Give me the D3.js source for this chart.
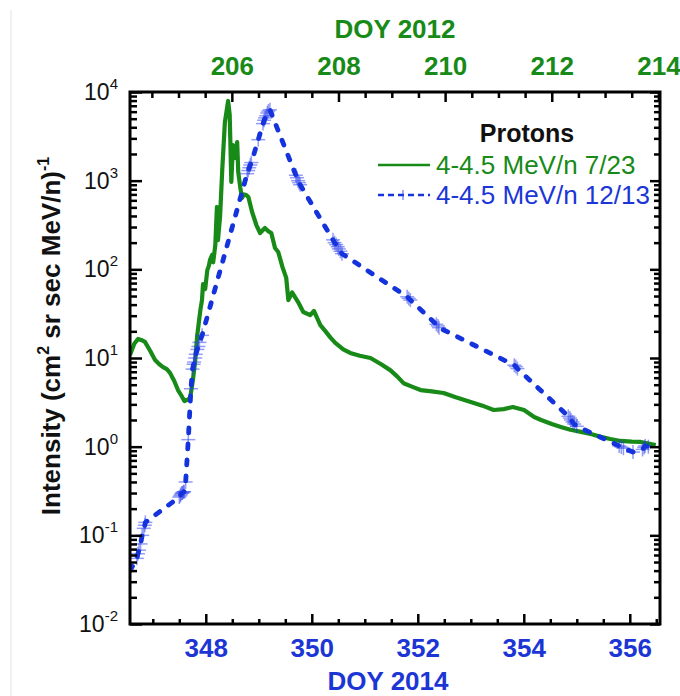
<!DOCTYPE html>
<html><head><meta charset="utf-8">
<script src="https://cdn.jsdelivr.net/npm/d3@7"></script>
<style>body{margin:0;background:#fff}svg{display:block}text{font-family:"Liberation Sans",Arial,sans-serif}</style>
</head><body><svg id="c" width="680" height="696"></svg>
<script>
// ---- data ----
const greenDoy2012 = [204.09,204.17,204.24,204.30,204.37,204.47,204.56,204.64,204.71,204.78,
  204.84,204.92,204.99,205.05,205.11,205.18,205.22,205.27,205.31,205.35,
  205.38,205.41,205.44,205.46,205.50,205.54,205.57,205.59,205.63,205.65,
  205.69,205.72,205.74,205.78,205.82,205.87,205.93,205.96,205.99,206.02,
  206.06,206.10,206.12,206.16,206.19,206.23,206.27,206.31,206.38,206.46,
  206.53,206.62,206.68,206.74,206.81,206.87,206.95,207.02,207.06,207.13,
  207.24,207.34,207.47,207.54,207.66,207.75,207.85,207.94,208.09,208.22,
  208.40,208.60,208.80,208.97,209.10,209.22,209.40,209.54,209.75,209.97,
  210.20,210.48,210.70,210.91,211.10,211.27,211.48,211.67,211.80,212.00,
  212.17,212.35,212.55,212.75,212.92,213.10,213.29,213.50,213.67,213.95];
const greenIntensity = [10.8,14.5,16.4,16,15.2,12,9.5,8.5,7.9,7.5,
  6.8,5.5,4.35,3.8,3.27,3.4,3.6,5.65,9,17.7,
  25,34.8,45,68,60,98,110,127,145,120,
  188,505,214,400,1320,4590,7920,5500,966,2520,
  1800,2730,1250,826,638,700,689,654,443,316,
  257,292,270,257,174,157,106,80,45,55,
  43,33,30.5,33.9,23.5,20.2,17,14.8,12.5,11.4,
  10.6,10,8.5,7.3,6.2,5.2,4.7,4.35,4.2,4.03,
  3.6,3.19,2.9,2.59,2.65,2.8,2.59,2.16,2.0,1.8,
  1.67,1.55,1.47,1.38,1.29,1.22,1.16,1.14,1.13,1.04];
const blueDoy2014 = [346.57,346.70,346.72,346.74,346.77,346.80,346.83,346.85,346.86,347.50,
  347.52,347.53,347.55,347.56,347.58,347.59,347.62,347.67,347.72,347.75,
  347.77,347.78,347.80,347.81,347.84,347.86,347.88,347.93,348.78,348.80,
  348.82,348.84,348.86,348.99,349.08,349.10,349.12,349.14,349.16,349.18,
  349.21,349.70,349.72,349.74,349.76,349.78,350.40,350.43,350.46,350.49,
  350.51,350.54,350.57,351.80,351.83,351.86,352.35,352.38,352.40,353.82,
  353.85,353.88,354.84,354.87,354.89,354.92,354.95,355.00,355.80,355.84,
  355.88,356.06,356.24,356.27,356.29,356.35];
const blueIntensity = [0.040,0.055,0.062,0.068,0.08,0.10,0.12,0.13,0.14,0.27,
  0.28,0.29,0.30,0.30,0.31,0.31,0.40,1.2,4.5,7.5,
  8.5,9,10,11,12.5,13.5,15,18,1200,1300,
  1400,1500,1600,2900,4400,4800,5100,5400,5800,6100,
  6300,1150,1080,1000,950,900,215,200,190,180,
  170,160,150,49,47,45,24,23,22,8.3,
  8.0,7.6,2.2,2.1,2.0,1.9,1.8,1.7,1.02,0.99,
  0.96,0.87,0.93,0.98,1.02,1.0];
const bottomTicks = [348,350,352,354,356];
const topTicks = [206,208,210,212,214];
const yTickValues = [1e-2,1e-1,1e0,1e1,1e2,1e3,1e4];
const yExponents = ["-2","-1","0","1","2","3","4"];
const legendTitle = "Protons";
const legendLabels = ["4-4.5 MeV/n 7/23","4-4.5 MeV/n 12/13"];
const bottomTitle = "DOY 2014", topTitle = "DOY 2012";

// ---- layout ----
const L=130,R=660,T=92,B=624;
const GREEN="#178a17", BLUE="#1533dd", BLUE_TXT="#1c36d6";
const svg = d3.select("#c");
const x = d3.scaleLinear().domain([346.57,356.57]).range([L,R]);
const xTop = d3.scaleLinear().domain([204.09,214.03]).range([L,R]);
const y = d3.scaleLog().domain([1e-2,1e4]).range([B,T]);

svg.append("line").attr("x1",11).attr("x2",11).attr("y1",10).attr("y2",696)
  .attr("stroke","#e2e2e2").attr("stroke-width",1);

svg.append("clipPath").attr("id","clip").append("rect")
  .attr("x",L).attr("y",T).attr("width",R-L).attr("height",B-T);

const plot = svg.append("g").attr("clip-path","url(#clip)");

// green line
const gLine = d3.line().x((d,i)=>xTop(greenDoy2012[i])).y((d,i)=>y(greenIntensity[i]));
plot.append("path").attr("d",gLine(greenDoy2012)).attr("fill","none")
  .attr("stroke",GREEN).attr("stroke-width",4.2).attr("stroke-linejoin","round");

// blue markers
const mk = 7;
const markers = plot.append("g").attr("stroke","rgba(40,60,235,0.5)").attr("stroke-width",1.5);
blueDoy2014.forEach((d,i)=>{
  const px=x(d), py=y(blueIntensity[i]);
  markers.append("line").attr("x1",px-mk).attr("x2",px+mk).attr("y1",py).attr("y2",py);
  markers.append("line").attr("x1",px).attr("x2",px).attr("y1",py-mk).attr("y2",py+mk);
});
// blue dashed line
const bLine = d3.line().x((d,i)=>x(blueDoy2014[i])).y((d,i)=>y(blueIntensity[i]));
plot.append("path").attr("d",bLine(blueDoy2014)).attr("fill","none")
  .attr("stroke",BLUE).attr("stroke-width",4.8).attr("stroke-dasharray","5,11")
  .attr("stroke-linecap","round").attr("stroke-linejoin","round");

// ---- axes ----
function styleAxis(g){
  g.select(".domain").remove();
  g.selectAll(".tick line").attr("stroke","#000").attr("stroke-width",2.5);
}
const halfDays = d3.range(346.5,356.6,0.5).filter(v=>v%2!==0);
const halfDaysTop = d3.range(204.5,214.1,0.5).filter(v=>v%2!==0);

svg.append("g").attr("transform",`translate(0,${B})`)
  .call(d3.axisBottom(x).tickValues(halfDays.filter(v=>v>=346.57)).tickSize(-5).tickFormat(""))
  .call(styleAxis);
const bAx = svg.append("g").attr("transform",`translate(0,${B})`)
  .call(d3.axisBottom(x).tickValues(bottomTicks).tickSize(-10).tickPadding(15).tickFormat(d3.format("d")))
  .call(styleAxis);
bAx.selectAll("text").attr("font-size",26).attr("font-weight","bold").attr("fill",BLUE_TXT)
  .attr("font-family","Liberation Sans, Arial, sans-serif");

svg.append("g").attr("transform",`translate(0,${T})`)
  .call(d3.axisTop(xTop).tickValues(halfDaysTop).tickSize(-6).tickFormat(""))
  .call(styleAxis);
const tAx = svg.append("g").attr("transform",`translate(0,${T})`)
  .call(d3.axisTop(xTop).tickValues(topTicks).tickSize(-10).tickPadding(17).tickFormat(d3.format("d")))
  .call(styleAxis);
tAx.selectAll("text").attr("font-size",26).attr("font-weight","bold").attr("fill",GREEN)
  .attr("font-family","Liberation Sans, Arial, sans-serif");

const minorY = [];
for (let k=-2;k<4;k++) for (let m=2;m<10;m++) minorY.push(m*Math.pow(10,k));
svg.append("g").attr("transform",`translate(${L},0)`)
  .call(d3.axisLeft(y).tickValues(minorY).tickSize(-7).tickFormat("")).call(styleAxis);
svg.append("g").attr("transform",`translate(${L},0)`)
  .call(d3.axisLeft(y).tickValues(yTickValues).tickSize(-12).tickFormat("")).call(styleAxis);
svg.append("g").attr("transform",`translate(${R},0)`)
  .call(d3.axisRight(y).tickValues(minorY).tickSize(-6).tickFormat("")).call(styleAxis);
svg.append("g").attr("transform",`translate(${R},0)`)
  .call(d3.axisRight(y).tickValues(yTickValues).tickSize(-10).tickFormat("")).call(styleAxis);

// frame
svg.append("rect").attr("x",L).attr("y",T).attr("width",R-L).attr("height",B-T)
  .attr("fill","none").attr("stroke","#000").attr("stroke-width",3);

// y tick labels
yTickValues.forEach((v,i)=>{
  const t = svg.append("text").attr("x",118).attr("y",y(v)+8).attr("text-anchor","end")
    .attr("font-size",23).attr("fill","#111");
  t.append("tspan").text("10");
  t.append("tspan").attr("font-size",15).attr("dy",-11).text(yExponents[i]);
});

// axis titles
svg.append("text").attr("x",388).attr("y",690).attr("text-anchor","middle")
  .attr("font-size",26).attr("font-weight","bold").attr("fill",BLUE_TXT).text(bottomTitle);
svg.append("text").attr("x",395).attr("y",38).attr("text-anchor","middle")
  .attr("font-size",26).attr("font-weight","bold").attr("fill",GREEN).text(topTitle);

const yt = svg.append("text").attr("transform","translate(60,336) rotate(-90)")
  .attr("text-anchor","middle").attr("font-size",26).attr("font-weight","bold").attr("fill","#111");
yt.append("tspan").text("Intensity (cm");
yt.append("tspan").attr("font-size",16).attr("dy",-11).text("2");
yt.append("tspan").attr("dy",11).text(" sr sec MeV/n)");
yt.append("tspan").attr("font-size",16).attr("dy",-11).text("-1");

// legend
svg.append("text").attr("x",527).attr("y",142).attr("text-anchor","middle")
  .attr("font-size",25).attr("font-weight","bold").attr("fill","#111").text(legendTitle);
svg.append("line").attr("x1",378).attr("x2",430).attr("y1",165).attr("y2",165)
  .attr("stroke",GREEN).attr("stroke-width",2.5);
svg.append("text").attr("x",436).attr("y",174).attr("font-size",26).attr("fill",GREEN).text(legendLabels[0]);
svg.append("line").attr("x1",378).attr("x2",430).attr("y1",195).attr("y2",195)
  .attr("stroke",BLUE).attr("stroke-width",2.5).attr("stroke-dasharray","6,4");
svg.append("line").attr("x1",403).attr("x2",403).attr("y1",190).attr("y2",200)
  .attr("stroke","rgba(40,60,235,0.6)").attr("stroke-width",1.4);
svg.append("text").attr("x",436).attr("y",204).attr("font-size",26).attr("fill",BLUE_TXT).text(legendLabels[1]);
</script></body></html>
